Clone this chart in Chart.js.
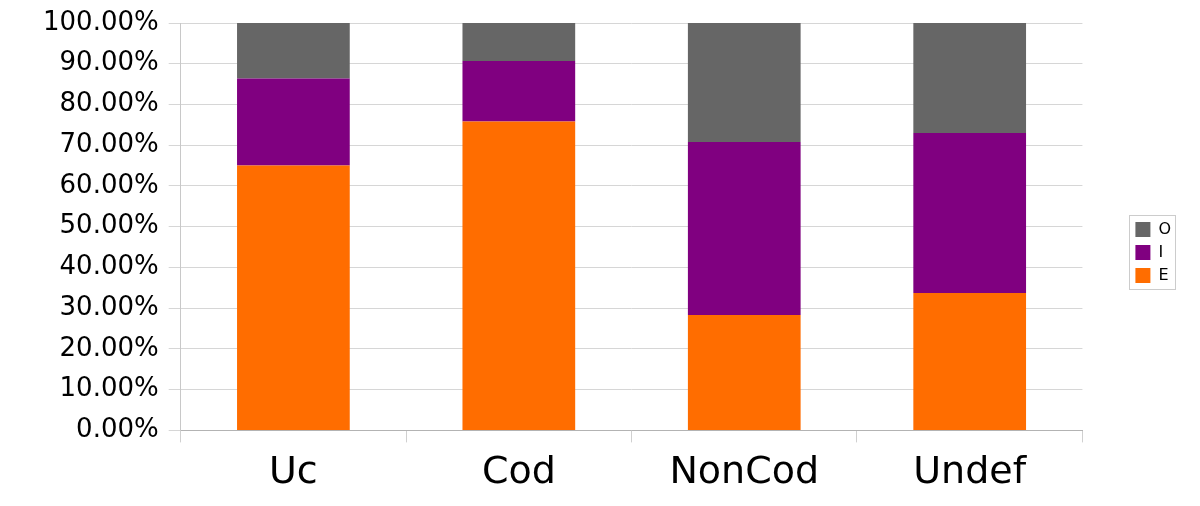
<!DOCTYPE html>
<html>
<head>
<meta charset="utf-8">
<script src="https://cdn.jsdelivr.net/npm/chart.js@4/dist/chart.umd.min.js"></script>
<style>
  html, body { margin: 0; padding: 0; background: #fff; }
  #wrap { width: 1200px; height: 506px; }
</style>
</head>
<body>
<div id="wrap"><canvas id="chart" width="1200" height="506"></canvas></div>
<script>
const categories = ['Uc', 'Cod', 'NonCod', 'Undef'];
const seriesE = [65.0, 75.8, 28.3, 33.7];
const seriesI = [21.4, 14.9, 42.5, 39.3];
const seriesO = [13.6, 9.3, 29.2, 27.0];

// thin frame around the legend, like the original
const legendFrame = {
  id: 'legendFrame',
  afterDraw(chart) {
    const boxes = chart.legend && chart.legend.legendHitBoxes;
    if (!boxes || !boxes.length) return;
    let l = Infinity, t = Infinity, r = -Infinity, b = -Infinity;
    boxes.forEach(h => {
      l = Math.min(l, h.left); t = Math.min(t, h.top);
      r = Math.max(r, h.left + h.width); b = Math.max(b, h.top + h.height);
    });
    const ctx = chart.ctx;
    ctx.save();
    ctx.strokeStyle = '#cccccc';
    ctx.lineWidth = 1;
    ctx.strokeRect(Math.round(l - 6) + 0.5, Math.round(t - 7) + 0.5, Math.round(r - l + 10), Math.round(b - t + 12));
    ctx.restore();
  }
};

new Chart(document.getElementById('chart'), {
  type: 'bar',
  data: {
    labels: categories,
    datasets: [
      { label: 'E', data: seriesE, backgroundColor: '#ff6d00' },
      { label: 'I', data: seriesI, backgroundColor: '#800080' },
      { label: 'O', data: seriesO, backgroundColor: '#666666' }
    ]
  },
  options: {
    responsive: false,
    animation: false,
    layout: { padding: { left: 33, top: 1, right: 19, bottom: 2 } },
    datasets: { bar: { barPercentage: 0.5, categoryPercentage: 1.0 } },
    scales: {
      x: {
        stacked: true,
        grid: { drawOnChartArea: false, drawTicks: true, tickLength: 12, color: '#d0d0d0' },
        border: { color: '#b3b3b3' },
        ticks: { color: '#000', padding: 8, font: { family: 'DejaVu Sans', size: 38 } }
      },
      y: {
        stacked: true,
        min: 0,
        max: 100,
        grid: { color: '#d6d6d6', tickLength: 12 },
        border: { color: '#c8c8c8' },
        ticks: {
          stepSize: 10,
          color: '#000',
          padding: 10,
          font: { family: 'DejaVu Sans', size: 26, lineHeight: 1.0 },
          callback: v => v.toFixed(2) + '%'
        }
      },
      // empty right-hand axis, only to keep the gap between plot and legend
      gap: {
        position: 'right',
        display: true,
        grid: { display: false },
        border: { display: false },
        ticks: { display: false },
        afterFit: s => { s.width = 46; }
      }
    },
    plugins: {
      legend: {
        position: 'right',
        reverse: true,
        labels: {
          color: '#000',
          boxWidth: 15,
          boxHeight: 15,
          padding: 7,
          font: { family: 'DejaVu Sans', size: 16 }
        }
      },
      tooltip: { enabled: false }
    }
  },
  plugins: [legendFrame]
});
</script>
</body>
</html>
